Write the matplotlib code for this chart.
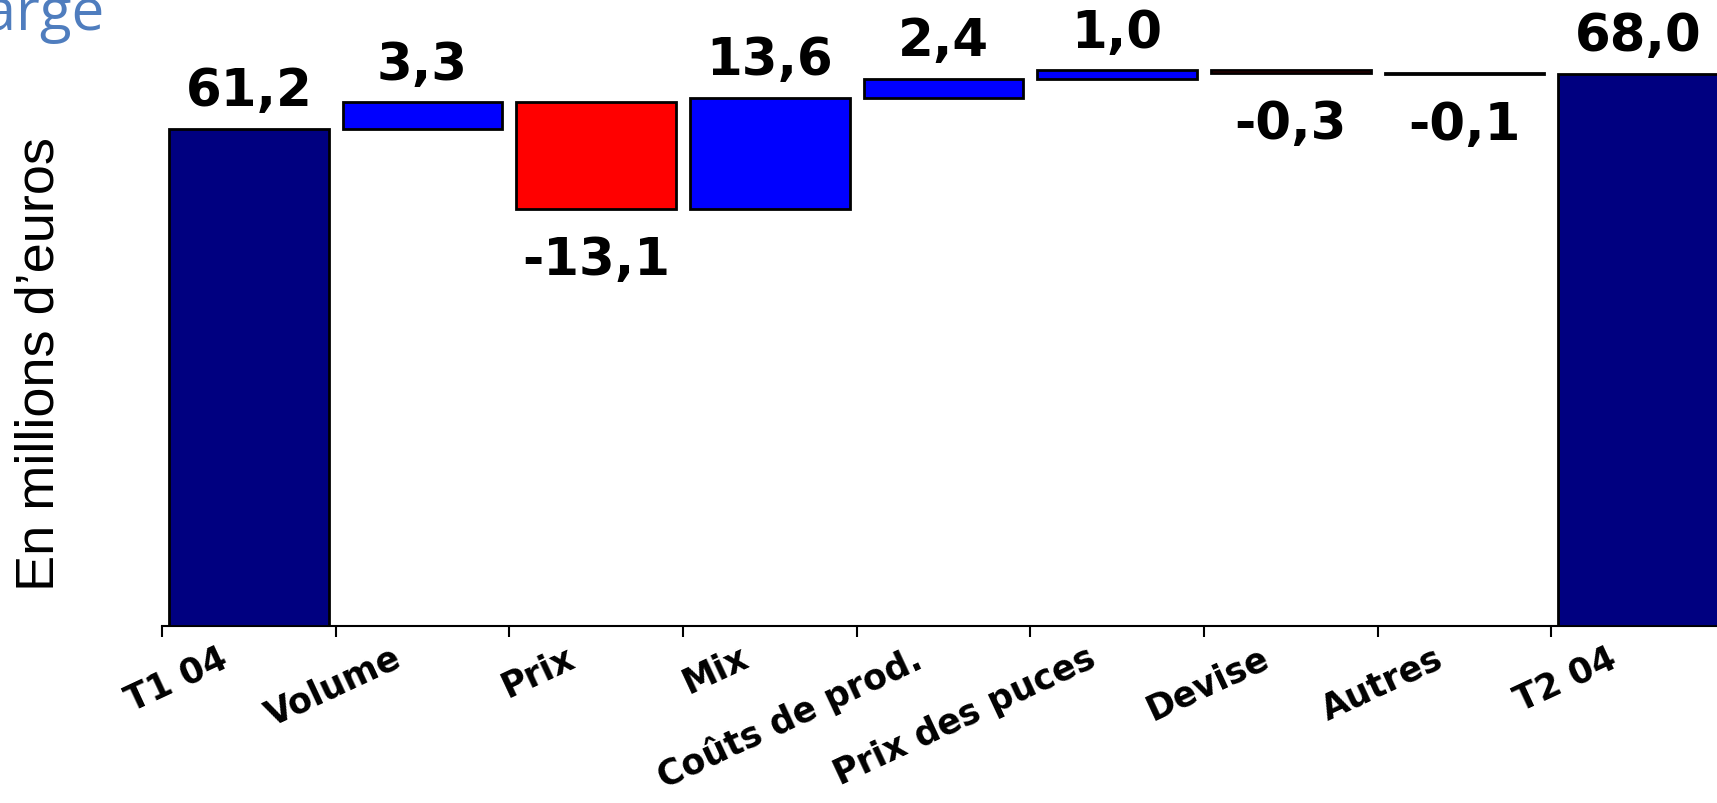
import numpy as np
import matplotlib.pyplot as plt
from matplotlib.transforms import ScaledTranslation

categories = ['T1 04', 'Volume', 'Prix', 'Mix', 'Coûts de prod.',
              'Prix des puces', 'Devise', 'Autres', 'T2 04']
start_value = 61.2
changes = [3.3, -13.1, 13.6, 2.4, 1.0, -0.3, -0.1]
end_value = 68.0
labels = ['61,2', '3,3', '-13,1', '13,6', '2,4', '1,0', '-0,3', '-0,1', '68,0']

# build waterfall bottoms/heights
bottoms = [0.0]
heights = [start_value]
level = start_value
for c in changes:
    bottoms.append(level if c >= 0 else level + c)
    heights.append(abs(c))
    level += c
bottoms.append(0.0)
heights.append(end_value)

colors = ['#000080'] + ['#0000FF' if c >= 0 else '#FF0000' for c in changes] + ['#000080']
tops = [b + h for b, h in zip(bottoms, heights)]
x = np.arange(len(categories))

fig = plt.figure(figsize=(17.17, 8.04), dpi=100)
ax = fig.add_axes([162 / 1717, 177 / 804, 1563 / 1717, 627 / 804])

ax.bar(x, heights, bottom=bottoms, width=0.92, color=colors,
       edgecolor='black', linewidth=2.0, zorder=3)

ax.set_xlim(-0.5, len(categories) - 0.5)
ax.set_ylim(0, 77.2)

# value labels
vals = [start_value] + changes + [end_value]
for i, (v, lab) in enumerate(zip(vals, labels)):
    if v >= 0:
        ax.annotate(lab, (x[i], tops[i]), xytext=(0, 17), textcoords='offset points',
                    ha='center', va='baseline', fontsize=37, fontweight='bold',
                    color='black', annotation_clip=False)
    else:
        ax.annotate(lab, (x[i], bottoms[i]), xytext=(0, -19), textcoords='offset points',
                    ha='center', va='top', fontsize=37, fontweight='bold',
                    color='black', annotation_clip=False)

# axes styling
for s in ['left', 'top', 'right']:
    ax.spines[s].set_visible(False)
ax.spines['bottom'].set_linewidth(1.5)
ax.set_yticks([])

ax.set_xticks(x)
ax.set_xticklabels(categories, rotation=25, ha='right', va='top',
                   rotation_mode='anchor', fontsize=25, fontweight='bold')
ax.tick_params(axis='x', which='major', length=0, pad=10)
ax.set_xticks(np.arange(-0.5, len(categories) - 0.5, 1.0), minor=True)
ax.tick_params(axis='x', which='minor', length=8, width=1.5, direction='out')
shift = ScaledTranslation(-22 / 72, 0, fig.dpi_scale_trans)
for lbl in ax.get_xticklabels():
    lbl.set_transform(lbl.get_transform() + shift)

fig.text(40 / 1717, 1 - 364 / 804, 'En millions d’euros', rotation=90,
         ha='center', va='center', fontsize=39, family='Liberation Sans')

fig.text(104 / 1717, 1 - 30 / 804, 'Marge', ha='right', va='baseline',
         fontsize=42, color='#4F7DBE', family='Open Sans')

fig.savefig('out.png', dpi=100)
